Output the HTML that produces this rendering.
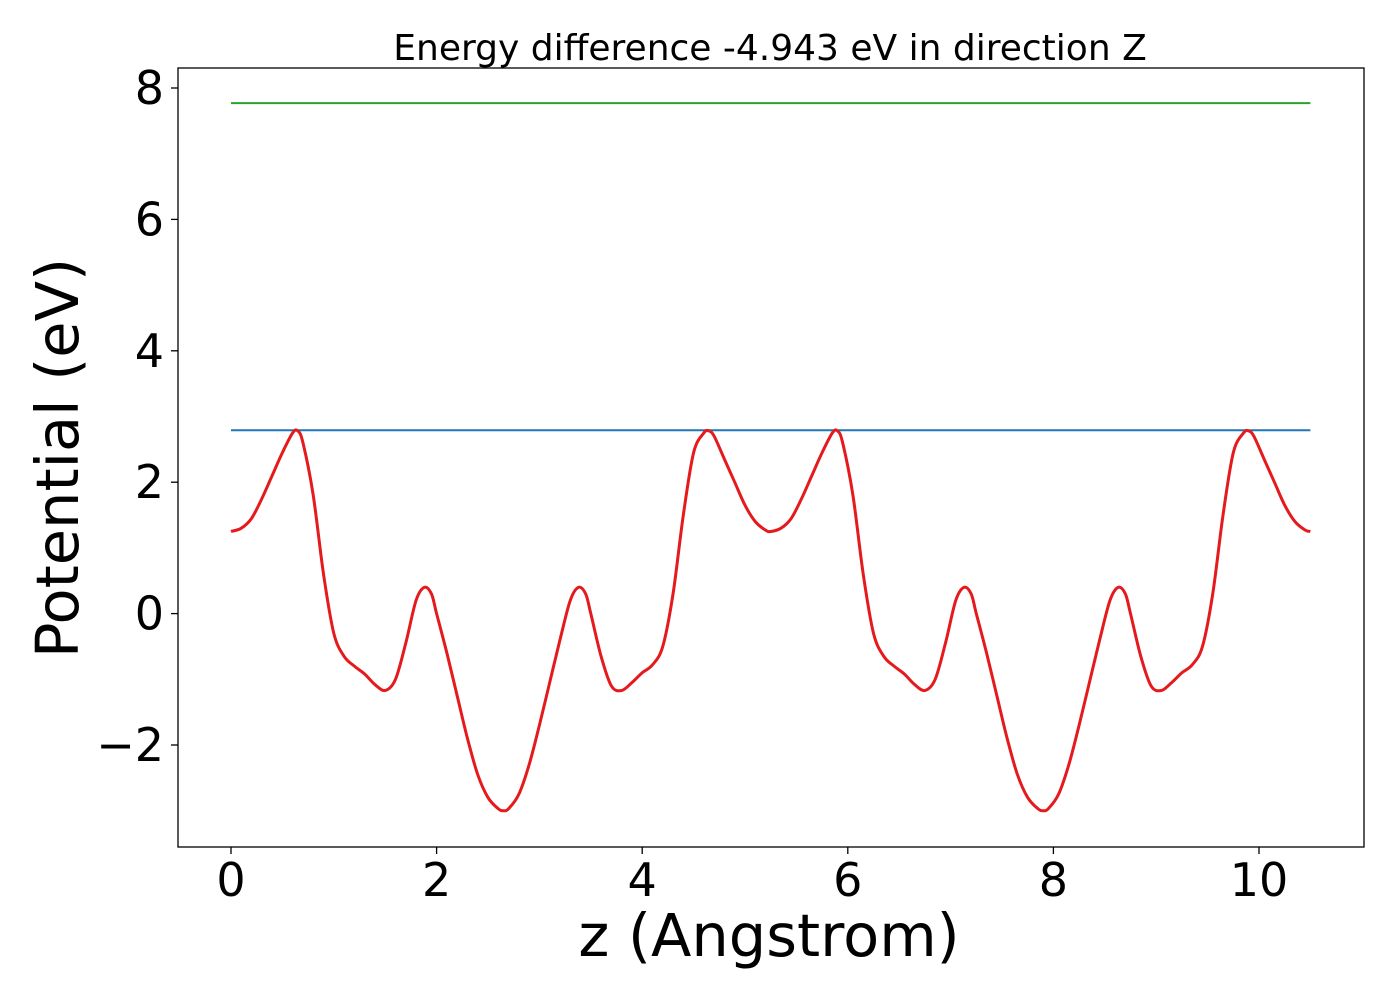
<!DOCTYPE html>
<html><head><meta charset="utf-8"><style>
html,body{margin:0;padding:0;background:#fff;}
svg text{font-family:"DejaVu Sans","Liberation Sans",sans-serif;fill:#000;}
</style></head><body>
<svg id="chart" width="1400" height="1000" viewBox="0 0 1400 1000" xmlns="http://www.w3.org/2000/svg">
<rect width="1400" height="1000" fill="#fff"/>
<text x="770" y="60" font-size="36" text-anchor="middle">Energy difference -4.943 eV in direction Z</text>
<g id="plot"></g>
<rect x="178" y="68" width="1186" height="779" fill="none" stroke="#000" stroke-width="1.3"/>
<text x="769" y="956" font-size="59" text-anchor="middle">z (Angstrom)</text>
<text transform="translate(78,458) rotate(-90)" font-size="59" text-anchor="middle">Potential (eV)</text>
</svg>
<script>
const xTicks=[0,2,4,6,8,10];
const yTicks=[-2,0,2,4,6,8];
const yTickLabels=["\u22122","0","2","4","6","8"];
const vacuumLevel=7.77;
const fermiLevel=2.79;
const lineStart=0, lineEnd=10.5;
const zVals=[0,0.1,0.2,0.3,0.4,0.5,0.6,0.65,0.7,0.8,0.9,1.0,1.1,1.2,1.3,1.4,1.5,1.6,1.7,1.8,1.88,1.95,2.0,2.1,2.2,2.3,2.4,2.5,2.6,2.65,2.7,2.8,2.9,3.0,3.1,3.2,3.3,3.38,3.45,3.5,3.6,3.7,3.8,3.9,4.0,4.1,4.2,4.3,4.4,4.5,4.6,4.65,4.7,4.8,4.9,5.0,5.1,5.2,5.25,
5.35,5.45,5.55,5.65,5.75,5.85,5.9,5.95,6.05,6.15,6.25,6.35,6.45,6.55,6.65,6.75,6.85,6.95,7.05,7.13,7.2,7.25,7.35,7.45,7.55,7.65,7.75,7.85,7.9,7.95,8.05,8.15,8.25,8.35,8.45,8.55,8.63,8.7,8.75,8.85,8.95,9.05,9.15,9.25,9.35,9.45,9.55,9.65,9.75,9.85,9.9,9.95,10.05,10.15,10.25,10.35,10.45,10.5];
const potVals=[1.25,1.3,1.45,1.75,2.1,2.45,2.75,2.78,2.6,1.8,0.6,-0.3,-0.65,-0.8,-0.92,-1.08,-1.17,-1.0,-0.45,0.2,0.4,0.3,0.0,-0.6,-1.25,-1.9,-2.45,-2.8,-2.97,-3.0,-2.97,-2.75,-2.3,-1.7,-1.05,-0.4,0.2,0.4,0.3,0.0,-0.65,-1.1,-1.17,-1.05,-0.9,-0.78,-0.5,0.3,1.5,2.45,2.75,2.78,2.7,2.35,2.0,1.65,1.4,1.27,1.25,
1.3,1.45,1.75,2.1,2.45,2.75,2.78,2.6,1.8,0.6,-0.3,-0.65,-0.8,-0.92,-1.08,-1.17,-1.0,-0.45,0.2,0.4,0.3,0.0,-0.6,-1.25,-1.9,-2.45,-2.8,-2.97,-3.0,-2.97,-2.75,-2.3,-1.7,-1.05,-0.4,0.2,0.4,0.3,0.0,-0.65,-1.1,-1.17,-1.05,-0.9,-0.78,-0.5,0.3,1.5,2.45,2.75,2.78,2.7,2.35,2.0,1.65,1.4,1.27,1.25];

const X=v=>231+v*102.8;
const Y=v=>613.6-v*65.7;
const NS="http://www.w3.org/2000/svg";
const g=document.getElementById('plot');
function mk(tag,attrs){const e=document.createElementNS(NS,tag);for(const k in attrs)e.setAttribute(k,attrs[k]);g.appendChild(e);return e;}

xTicks.forEach(t=>{
  const l=mk('line',{x1:X(t),x2:X(t),y1:847,y2:854,stroke:'#000','stroke-width':1.3});
  
  
  const tx=mk('text',{x:X(t),y:896,'font-size':46,'text-anchor':'middle'});
  tx.textContent=String(t);
  
  
});
yTicks.forEach((t,i)=>{
  const l=mk('line',{x1:171,x2:178,y1:Y(t),y2:Y(t),stroke:'#000','stroke-width':1.3});
  
  
  const tx=mk('text',{x:164,y:Y(t)+16,'font-size':46,'text-anchor':'end'});
  tx.textContent=yTickLabels[i];
  
  
});
const vac=mk('line',{x1:X(lineStart),x2:X(lineEnd),y1:Y(vacuumLevel),y2:Y(vacuumLevel),stroke:'#2ca02c','stroke-width':2});


const fer=mk('line',{x1:X(lineStart),x2:X(lineEnd),y1:Y(fermiLevel),y2:Y(fermiLevel),stroke:'#1f77b4','stroke-width':2});



const P=zVals.map((z,i)=>[X(z),Y(potVals[i])]);
let d='M'+P[0][0]+','+P[0][1];
for(let i=0;i<P.length-1;i++){
  const p0=P[Math.max(0,i-1)],p1=P[i],p2=P[i+1],p3=P[Math.min(P.length-1,i+2)];
  const c1=[p1[0]+(p2[0]-p0[0])/6,p1[1]+(p2[1]-p0[1])/6];
  const c2=[p2[0]-(p3[0]-p1[0])/6,p2[1]-(p3[1]-p1[1])/6];
  d+=' C'+c1[0]+','+c1[1]+' '+c2[0]+','+c2[1]+' '+p2[0]+','+p2[1];
}
const curve=mk('path',{d:d,fill:'none',stroke:'#e41a1c','stroke-width':3,'stroke-linejoin':'round'});


</script>
</body></html>
